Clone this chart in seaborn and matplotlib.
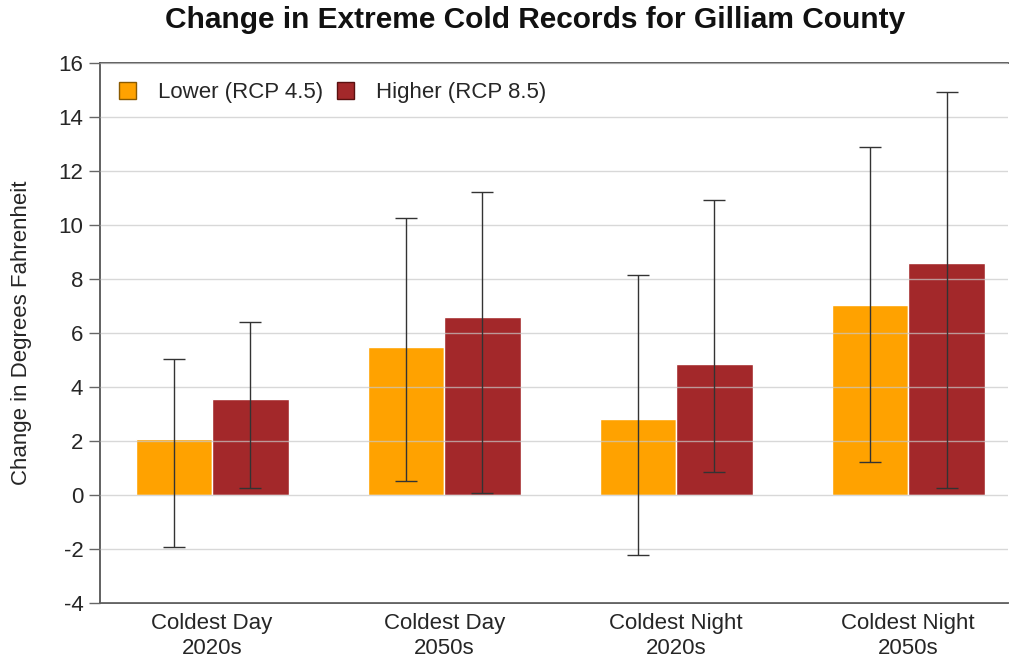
"""Change in extreme cold records — grouped bars with asymmetric ranges."""

import matplotlib

matplotlib.use("Agg")
import matplotlib.pyplot as plt
import numpy as np
import pandas as pd
import seaborn as sns

CATEGORIES = ["Coldest Day\n2020s", "Coldest Day\n2050s", "Coldest Night\n2020s", "Coldest Night\n2050s"]
SCENARIOS = ["Lower (RCP 4.5)", "Higher (RCP 8.5)"]
LOWER_MEAN = [2.06, 5.49, 2.83, 7.05]
LOWER_MIN = [-1.94, 0.51, -2.22, 1.21]
LOWER_MAX = [5.03, 10.27, 8.14, 12.89]
HIGHER_MEAN = [3.57, 6.58, 4.84, 8.60]
HIGHER_MIN = [0.27, 0.06, 0.85, 0.26]
HIGHER_MAX = [6.41, 11.23, 10.94, 14.94]
COLORS = {"Lower (RCP 4.5)": "#FFA200", "Higher (RCP 8.5)": "#A3282A"}
EDGES = {"Lower (RCP 4.5)": "#8a5a00", "Higher (RCP 8.5)": "#5a1010"}

df = pd.DataFrame(
    {
        "period": CATEGORIES * 2,
        "scenario": [SCENARIOS[0]] * 4 + [SCENARIOS[1]] * 4,
        "change": LOWER_MEAN + HIGHER_MEAN,
        "low": LOWER_MIN + HIGHER_MIN,
        "high": LOWER_MAX + HIGHER_MAX,
    }
)

sns.set_theme(style="white")
plt.rcParams["font.family"] = ["Liberation Sans", "DejaVu Sans"]
plt.rcParams["axes.unicode_minus"] = False

fig = plt.figure(figsize=(10.1, 6.63), dpi=100)
ax = fig.add_axes([100 / 1010, 60 / 663, 908 / 1010, 540 / 663])

sns.barplot(
    data=df,
    x="period",
    y="change",
    hue="scenario",
    palette=COLORS,
    saturation=1,
    width=0.66,
    errorbar=None,
    edgecolor="white",
    linewidth=1,
    ax=ax,
)

# asymmetric min/max whiskers at each bar centre
bars = ax.patches[: len(df)]
for bar, (_, row) in zip(bars, df.iterrows()):
    cx = bar.get_x() + bar.get_width() / 2
    ax.errorbar(
        cx,
        row["change"],
        yerr=[[row["change"] - row["low"]], [row["high"] - row["change"]]],
        fmt="none",
        ecolor="#333333",
        elinewidth=1,
        capsize=8,
        capthick=1,
        zorder=4,
    )

ax.set_ylim(-4, 16)
ax.set_yticks(np.arange(-4, 17, 2))
ax.set_xlim(-0.483, 3.43)
ax.yaxis.grid(True, color="#c8c8c8", linewidth=1, alpha=0.7, zorder=3)
ax.set_axisbelow(False)
for b in ax.patches:
    b.set_zorder(2)

ax.tick_params(axis="y", which="both", left=True, length=8, width=1, color="#666666", labelsize=16, pad=4)
ax.tick_params(axis="x", length=0, labelsize=16, pad=7)
for lab in ax.get_xticklabels():
    lab.set_linespacing(1.25)
for side in ["left", "bottom", "top"]:
    ax.spines[side].set_color("#555555")
    ax.spines[side].set_linewidth(1.3)
ax.spines["right"].set_visible(False)

ax.set_xlabel("")
ax.set_ylabel("Change in Degrees Fahrenheit", fontsize=16)
ax.yaxis.set_label_coords(-68 / 908, 0.5)
fig.text(
    535 / 1010,
    1 - 20 / 663,
    "Change in Extreme Cold Records for Gilliam County",
    ha="center",
    va="center",
    fontsize=21.5,
    fontweight="bold",
    color="#111111",
)

handles, labels = ax.get_legend_handles_labels()
for h, lab in zip(handles, labels):
    h.set_edgecolor(EDGES[lab])
    h.set_linewidth(1)
ax.legend(
    handles,
    labels,
    loc="upper left",
    bbox_to_anchor=(0.0, 1.0),
    ncol=2,
    frameon=False,
    fontsize=16,
    handlelength=0.78,
    handleheight=0.78,
    handletextpad=1.0,
    columnspacing=0.6,
    borderaxespad=0.45,
)

fig.savefig("out.png", dpi=100)
